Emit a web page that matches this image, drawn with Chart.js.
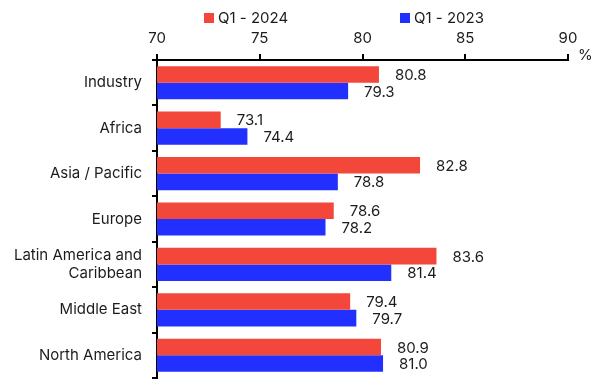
<!DOCTYPE html>
<html>
<head>
<meta charset="utf-8">
<script src="https://cdn.jsdelivr.net/npm/chart.js@4"></script>
<style>
  html, body { margin: 0; padding: 0; background: #fff; }
  #wrap { width: 594px; height: 380px; }
</style>
</head>
<body>
<div id="wrap"><canvas id="c" width="594" height="380"></canvas></div>
<script>
// Categories and series
const regions = ['Industry', 'Africa', 'Asia / Pacific', 'Europe', ['Latin America and', 'Caribbean'], 'Middle East', 'North America'];
const q1_2024 = [80.8, 73.1, 82.8, 78.6, 83.6, 79.4, 80.9];
const q1_2023 = [79.3, 74.4, 78.8, 78.2, 81.4, 79.7, 81.0];
const seriesNames = ['Q1 - 2024', 'Q1 - 2023'];
const xTicks = [70, 75, 80, 85, 90];

const RED = '#f2473a';
const BLUE = '#2230ff';
const INK = '#1c1c1c';
const FONT = 'Inter, "Noto Sans", sans-serif';
const FS = 15;

// Value labels at the end of every bar, legend row and unit marker
const annotate = {
  id: 'annotate',
  afterDatasetsDraw(chart) {
    const ctx = chart.ctx;
    const x = chart.scales.x;
    ctx.save();
    ctx.font = FS + 'px ' + FONT;
    ctx.fillStyle = INK;
    ctx.textAlign = 'left';
    ctx.textBaseline = 'middle';
    chart.data.datasets.forEach((ds, di) => {
      const meta = chart.getDatasetMeta(di);
      meta.data.forEach((bar, i) => {
        const v = ds.data[i];
        ctx.fillText(v.toFixed(1), x.getPixelForValue(v) + 16, bar.y + 1);
      });
    });
    // unit
    ctx.fillText('%', chart.chartArea.right + 10, chart.chartArea.top - 5);
    // legend
    const items = [{ x: 204, c: RED, t: seriesNames[0] }, { x: 400, c: BLUE, t: seriesNames[1] }];
    items.forEach(it => {
      ctx.fillStyle = it.c;
      ctx.fillRect(it.x, 13, 10, 10);
      ctx.fillStyle = INK;
      ctx.fillText(it.t, it.x + 14, 18);
    });
    ctx.restore();
  }
};

new Chart(document.getElementById('c'), {
  type: 'bar',
  data: {
    labels: regions,
    datasets: [
      { label: seriesNames[0], data: q1_2024, backgroundColor: RED, categoryPercentage: 0.73, barPercentage: 1 },
      { label: seriesNames[1], data: q1_2023, backgroundColor: BLUE, categoryPercentage: 0.73, barPercentage: 1 }
    ]
  },
  options: {
    indexAxis: 'y',
    responsive: false,
    animation: false,
    layout: { padding: { top: 0, right: 26, bottom: 2, left: 0 } },
    plugins: {
      legend: { display: false },
      tooltip: { enabled: false }
    },
    scales: {
      x: {
        position: 'top',
        min: 70,
        max: 90,
        afterBuildTicks(scale) { scale.ticks = xTicks.map(v => ({ value: v })); },
        afterFit(scale) { scale.height = 60; },
        ticks: { color: INK, font: { family: FONT, size: FS }, padding: 7 },
        grid: { drawOnChartArea: false, drawTicks: true, tickLength: 6, color: '#000', lineWidth: 2 },
        border: { color: '#000', width: 2 }
      },
      y: {
        afterFit(scale) {
          scale.width = 157;
          scale.paddingTop = 0;
          scale.paddingBottom = 0;
        },
        ticks: { color: INK, font: { family: FONT, size: FS }, padding: 10 },
        grid: { drawOnChartArea: false, drawTicks: true, tickLength: 5, color: '#000', lineWidth: 2, offset: true },
        border: { color: '#000', width: 2 }
      }
    }
  },
  plugins: [annotate]
});
</script>
</body>
</html>
